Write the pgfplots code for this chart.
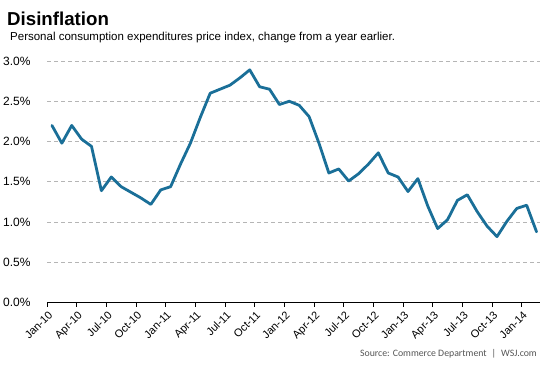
\documentclass[border=0pt]{standalone}
\usepackage{pgfplots}
\pgfplotsset{compat=1.18}
\usepackage{fontspec}
\setmainfont{Liberation Sans}
\newfontfamily\srcfont{Carlito}
\definecolor{wsjblue}{HTML}{1A6F98}
\definecolor{gridgray}{HTML}{B5B5B5}
\definecolor{srcgray}{HTML}{555555}
\begin{document}
\begin{tikzpicture}[x=1pt,y=1pt]
\useasboundingbox (0,0) rectangle (553,369);
\node[anchor=base west,inner sep=0pt,font=\fontsize{18.7}{20}\selectfont\bfseries] at (7,343) {Disinflation};
\node[anchor=base west,inner sep=0pt,font=\fontsize{11.5}{13}\selectfont] at (10,328) {Personal consumption expenditures price index, change from a year earlier.};
\node[anchor=base east,inner sep=0pt,font=\fontsize{9.8}{11}\srcfont,text=srcgray] at (537,12.3) {Source: Commerce Department \;|\; WSJ.com};
\begin{axis}[
  at={(47pt,66.3pt)}, anchor=south west,
  scale only axis, width=493pt, height=241.7pt,
  xmin=0, xmax=49.85, ymin=0, ymax=3,
  axis x line*=bottom, axis y line*=left,
  y axis line style={draw=none},
  x axis line style={black, line width=1.3pt},
  ytick={0,0.5,...,3.0},
  yticklabel={\pgfmathprintnumber[fixed,fixed zerofill,precision=1]{\tick}\%},
  ytick style={draw=none},
  ymajorgrids,
  grid style={gridgray, dash pattern=on 4pt off 3pt, line width=0.8pt},
  xtick={0,3,...,48},
  xticklabels={Jan-10,Apr-10,Jul-10,Oct-10,Jan-11,Apr-11,Jul-11,Oct-11,Jan-12,Apr-12,Jul-12,Oct-12,Jan-13,Apr-13,Jul-13,Oct-13,Jan-14},
  xtick style={black, line width=1pt},
  tick align=outside, major tick length=4pt,
  xticklabel style={rotate=45, anchor=north east, inner sep=1pt, xshift=-1pt, yshift=-2pt, font=\fontsize{11}{13}\selectfont},
  yticklabel style={font=\fontsize{12}{14}\selectfont, xshift=-9pt},
  /pgf/number format/assume math mode=true,
  clip=false,
]
\addplot[wsjblue, line width=2.8pt, line join=round, line cap=round] table {
x y
0.5 2.20
1.5 1.98
2.5 2.20
3.5 2.03
4.5 1.94
5.5 1.39
6.5 1.56
7.5 1.44
8.5 1.37
9.5 1.30
10.5 1.22
11.5 1.40
12.5 1.44
13.5 1.72
14.5 1.98
15.5 2.30
16.5 2.60
17.5 2.65
18.5 2.70
19.5 2.79
20.5 2.89
21.5 2.68
22.5 2.65
23.5 2.46
24.5 2.50
25.5 2.45
26.5 2.31
27.5 1.98
28.5 1.61
29.5 1.66
30.5 1.51
31.5 1.60
32.5 1.72
33.5 1.86
34.5 1.61
35.5 1.56
36.5 1.38
37.5 1.54
38.5 1.20
39.5 0.92
40.5 1.03
41.5 1.27
42.5 1.34
43.5 1.13
44.5 0.95
45.5 0.82
46.5 1.01
47.5 1.17
48.5 1.21
49.5 0.88
};
\end{axis}
\end{tikzpicture}
\end{document}
